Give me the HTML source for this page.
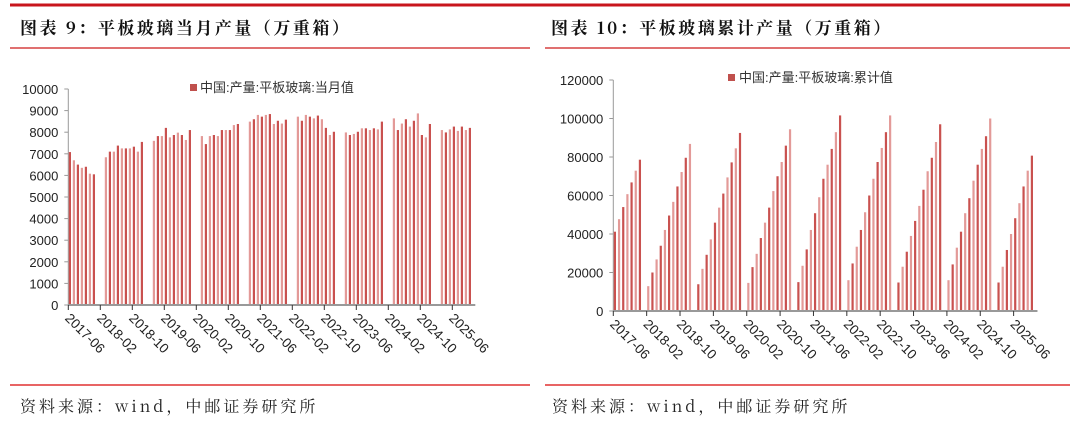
<!DOCTYPE html>
<html><head><meta charset="utf-8">
<style>
html,body{margin:0;padding:0;background:#fff;}
svg{display:block;}
.t{font-family:"Liberation Sans","Noto Sans CJK SC",sans-serif;font-size:13px;fill:#222;}
.tx{font-family:"Liberation Sans","Noto Sans CJK SC",sans-serif;font-size:13.5px;fill:#222;}
.ttl{font-family:"Noto Serif CJK SC","Liberation Serif",serif;font-size:17px;font-weight:bold;fill:#111;letter-spacing:2.5px;}
.src{font-family:"Noto Serif CJK SC","Liberation Mono",serif;font-size:16px;fill:#222;letter-spacing:3px;}
.lg{font-family:"Liberation Sans","Noto Sans CJK SC",sans-serif;font-size:13px;fill:#333;}
</style></head><body>
<svg id="s" width="1080" height="424">
<line x1="10" y1="5" x2="1070" y2="5" stroke="#c8161d" stroke-width="3"/>
<line x1="10" y1="48" x2="530" y2="48" stroke="#e07070" stroke-width="2"/>
<line x1="545" y1="48" x2="1070" y2="48" stroke="#e07070" stroke-width="2"/>
<text x="20" y="34" class="ttl">图表 9：平板玻璃当月产量（万重箱）</text>
<text x="551" y="34" class="ttl">图表 10：平板玻璃累计产量（万重箱）</text>
<line x1="10" y1="385" x2="530" y2="385" stroke="#e03030" stroke-width="1.5"/>
<line x1="545" y1="385" x2="1070" y2="385" stroke="#e03030" stroke-width="1.5"/>
<text x="20" y="412" class="src">资料来源：wind，中邮证券研究所</text>
<text x="552" y="412" class="src">资料来源：wind，中邮证券研究所</text>
<rect x="190" y="84" width="7" height="7" fill="#c0504d"/>
<text x="200" y="92" class="lg">中国:产量:平板玻璃:当月值</text>
<rect x="728" y="74" width="7" height="7" fill="#c0504d"/>
<text x="739" y="82" class="lg">中国:产量:平板玻璃:累计值</text>
<g id="L"></g><g id="R"></g>
</svg>
<script>
const tickLabels=["2017-06","2018-02","2018-10","2019-06","2020-02","2020-10","2021-06","2022-02","2022-10","2023-06","2024-02","2024-10","2025-06"];
const leftTicks=[0,1000,2000,3000,4000,5000,6000,7000,8000,9000,10000];
const rightTicks=[0,20000,40000,60000,80000,100000,120000];
const monthly2017=[7080,6700,6500,6350,6400,6080,6050];
const monthly2018=[6840,7100,7100,7380,7250,7250,7250,7330,7100,7550];
const monthly2019=[7600,7820,7820,8200,7760,7870,7980,7870,7640,8100];
const monthly2020=[7820,7450,7820,7870,7820,8100,8100,8100,8330,8380];
const monthly2021=[8490,8600,8800,8720,8800,8840,8380,8530,8400,8580];
const monthly2022=[8720,8530,8800,8720,8640,8770,8600,8200,7870,8020];
const monthly2023=[7990,7870,7920,8020,8180,8180,8100,8180,8130,8490];
const monthly2024=[8640,8100,8400,8600,8260,8530,8870,7870,7760,8380];
const monthly2025=[8100,7990,8130,8260,8060,8260,8100,8200];
const cum2017=[41200,47700,54000,60700,66800,72900,78600];
const cum2018=[12900,20000,26800,33900,42100,49600,56700,64700,72200,79600,86800];
const cum2019=[13900,21900,29200,37200,45900,53700,61000,69400,77200,84500,92500];
const cum2020=[14600,22800,29700,37900,45900,53700,62300,70000,77400,85900,94400];
const cum2021=[15000,23500,32000,42100,50800,59100,68700,76000,84200,92900,101600];
const cum2022=[16000,24700,33400,42100,51300,60000,68700,77400,84700,92900,101600];
const cum2023=[14800,23000,30800,39000,46800,54600,63000,72600,79600,87800,97000];
const cum2024=[16000,24200,32900,41200,50800,58600,67700,76000,84200,90800,100000];
const cum2025=[14800,23000,31700,40000,48200,56000,64700,72900,80700];

const NS="http://www.w3.org/2000/svg";
function mk(p,tag,a){const e=document.createElementNS(NS,tag);for(const k in a)e.setAttribute(k,a[k]);p.appendChild(e);return e;}
function series(first,years,startMonth){
  const out=[];first.forEach((v,k)=>out.push({i:k,v}));
  years.forEach((arr,y)=>{const base=7+12*y+(startMonth-1);arr.forEach((v,k)=>out.push({i:base+k,v}));});
  return out;}
const mData=series(monthly2017,[monthly2018,monthly2019,monthly2020,monthly2021,monthly2022,monthly2023,monthly2024,monthly2025],3);
const cData=series(cum2017,[cum2018,cum2019,cum2020,cum2021,cum2022,cum2023,cum2024,cum2025],2);

function draw(g,o){
  const x=i=>o.x0+i*o.dx, y=v=>o.y0-(v/o.max)*(o.y0-o.yTop);
  mk(g,'line',{x1:o.x0,y1:o.yTop,x2:o.x0,y2:o.y0,stroke:'#999','stroke-width':1});
  o.ticks.forEach(t=>{
    const e=mk(g,'text',{x:o.x0-10,y:y(t)+5,'text-anchor':'end',class:'t'});e.textContent=t;
    
    
    mk(g,'line',{x1:o.x0-4,y1:y(t),x2:o.x0,y2:y(t),stroke:'#999'});
  });
  o.data.forEach((d,k)=>{
    const r=mk(g,'rect',{x:x(d.i)+0.5,y:y(d.v),width:2.2,height:o.y0-y(d.v),fill:k%2?'#e39a98':'#c9514f'});
    
    
  });
  mk(g,'line',{x1:o.x0,y1:o.y0,x2:o.x0+101*o.dx+3,y2:o.y0,stroke:'#999','stroke-width':2});
  tickLabels.forEach((l,k)=>{
    const tx=x(k*8);
    mk(g,'line',{x1:tx,y1:o.y0,x2:tx,y2:o.y0+5,stroke:'#333'});
    const e=mk(g,'text',{x:0,y:0,class:'tx',transform:`translate(${tx-4},${o.y0+14}) rotate(45)`});e.textContent=l;
    
    
  });
}
draw(document.getElementById('L'),{x0:68.3,dx:4.0,y0:305,yTop:89,max:10000,ticks:leftTicks,data:mData});
draw(document.getElementById('R'),{x0:613.3,dx:4.17,y0:311,yTop:80,max:120000,ticks:rightTicks,data:cData});
</script>
</body></html>
